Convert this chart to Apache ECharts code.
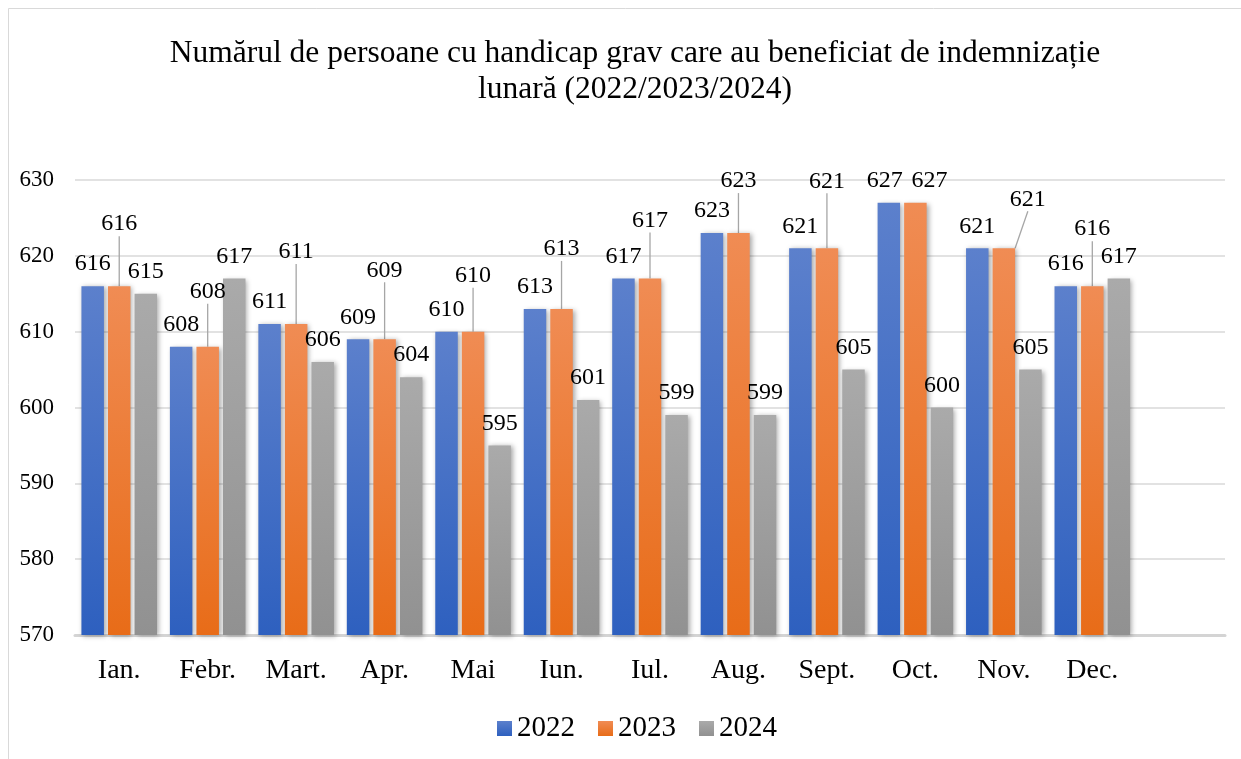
<!DOCTYPE html>
<html>
<head>
<meta charset="utf-8">
<script src="https://cdn.jsdelivr.net/npm/echarts@6/dist/echarts.min.js"></script>
<style>
html,body{margin:0;padding:0;background:#fff;}
#chart{width:1241px;height:759px;}
</style>
</head>
<body>
<div id="chart"></div>
<script>
const titleText = 'Numărul de persoane cu handicap grav care au beneficiat de indemnizație\nlunară (2022/2023/2024)';
const months = ['Ian.', 'Febr.', 'Mart.', 'Apr.', 'Mai', 'Iun.', 'Iul.', 'Aug.', 'Sept.', 'Oct.', 'Nov.', 'Dec.'];
const seriesNames = ['2022', '2023', '2024'];
const values2022 = [616, 608, 611, 609, 610, 613, 617, 623, 621, 627, 621, 616];
const values2023 = [616, 608, 611, 609, 610, 613, 617, 623, 621, 627, 621, 616];
const values2024 = [615, 617, 606, 604, 595, 601, 599, 599, 605, 600, 605, 617];
const yTicks = [570, 580, 590, 600, 610, 620, 630];

// label displacement (pixels) for labels with leader lines, per month
const shift2023 = [[0,-40],[0,-33],[0,-50],[0,-47],[0,-34],[0,-38],[0,-36],[0,-30],[0,-45],[14,0],[24,-27],[0,-35]];
const shift2022 = [[0,0],[0,0],[0,0],[0,0],[0,0],[0,0],[0,0],[0,0],[0,0],[-4,0],[0,0],[0,0]];

const SERIF = '"Liberation Serif", "DejaVu Serif", serif';

function grad(top, bottom) {
  return new echarts.graphic.LinearGradient(0, 0, 0, 1, [
    {offset: 0, color: top}, {offset: 1, color: bottom}
  ]);
}
const colors = [grad('#5C80CC', '#2E60BF'), grad('#F08C54', '#E86C18'), grad('#AAAAAA', '#919191')];

const chart = echarts.init(document.getElementById('chart'), null, {renderer: 'canvas'});

const baseLabel = {
  show: true, position: 'top', distance: 10,
  fontFamily: SERIF, fontSize: 24, color: '#000'
};
const itemBase = {
  shadowColor: 'rgba(0,0,0,0.35)', shadowBlur: 5, shadowOffsetX: 2, shadowOffsetY: 1
};

function mkSeries(idx, vals, shifts) {
  return {
    name: seriesNames[idx],
    type: 'bar',
    barWidth: 22.5,
    barGap: '18%',
    data: vals.map((v, i) => {
      const d = {value: v};
      if (idx === 1 && shifts && shifts[i][1] === 0) d.labelLine = {show: false};
      return d;
    }),
    itemStyle: Object.assign({color: colors[idx]}, itemBase),
    label: baseLabel,
    labelLine: idx === 1 ? {show: true, lineStyle: {color: '#A6A6A6', width: 1.3}} : {show: false},
    labelLayout: shifts ? function (p) {
      const s = shifts[p.dataIndex];
      return {dx: s[0], dy: s[1]};
    } : undefined,
    emphasis: {disabled: true}
  };
}

const option = {
  backgroundColor: '#fff',
  animation: false,
  title: {
    text: titleText,
    left: 630, top: 31, textAlign: 'center',
    textStyle: {fontFamily: SERIF, fontSize: 31.5, fontWeight: 'normal', color: '#000', lineHeight: 36, align: 'center'}
  },
  graphic: [{
    type: 'rect', silent: true, z: -10,
    shape: {x: 8.5, y: 8.5, width: 1400, height: 900},
    style: {fill: 'none', stroke: '#D9D9D9', lineWidth: 1}
  }],
  legend: {
    bottom: 11, left: 492,
    itemWidth: 15, itemHeight: 15, itemGap: 23,
    icon: 'rect',
    textStyle: {fontFamily: SERIF, fontSize: 29, color: '#000'},
    data: seriesNames
  },
  grid: {left: 75, right: 16, top: 180, bottom: 124, containLabel: false},
  xAxis: {
    type: 'category',
    data: months.concat(['']),
    axisLine: {show: true, lineStyle: {color: '#D4D4D4', width: 3}},
    axisTick: {show: false},
    axisLabel: {fontFamily: SERIF, fontSize: 28, color: '#000', margin: 22, interval: 0}
  },
  yAxis: {
    type: 'value',
    min: yTicks[0], max: yTicks[yTicks.length - 1], interval: 10,
    axisLine: {show: false},
    axisTick: {show: false},
    splitLine: {lineStyle: {color: '#D9D9D9', width: 1.5}},
    axisLabel: {fontFamily: SERIF, fontSize: 23, color: '#000', margin: 21}
  },
  series: [
    mkSeries(0, values2022, shift2022),
    mkSeries(1, values2023, shift2023),
    mkSeries(2, values2024, null)
  ]
};
chart.setOption(option);
</script>
</body>
</html>
